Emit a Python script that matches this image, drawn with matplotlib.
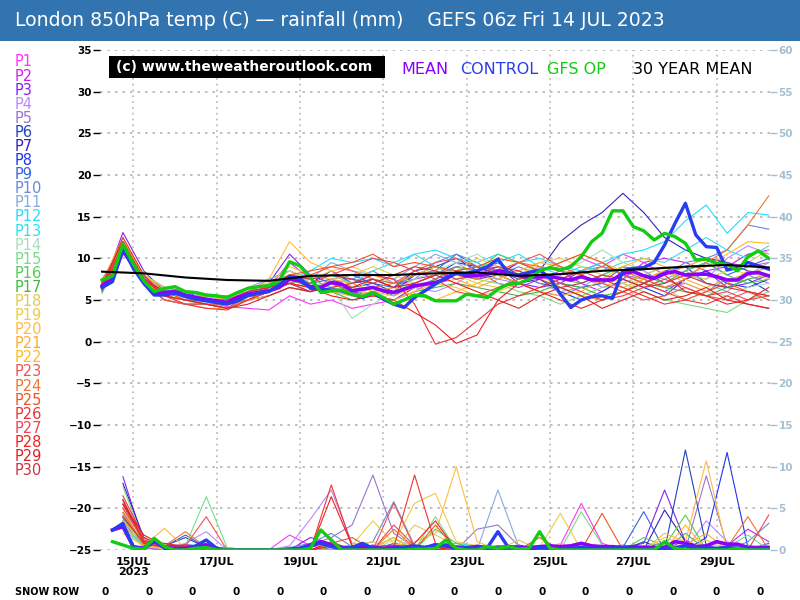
import numpy as np
import matplotlib
matplotlib.use("Agg")
import matplotlib.pyplot as plt
from matplotlib.patches import Rectangle

plt.rcParams['font.family'] = ['DejaVu Sans']

# ---------------- DATA ----------------
# time in days since 14 JUL 00z; first value = 14 JUL 06z
T_START = 0.25
title = "London 850hPa temp (C) \u2014 rainfall (mm)    GEFS 06z Fri 14 JUL 2023"
date_ticks = [1, 3, 5, 7, 9, 11, 13, 15]
date_labels = ["15JUL\n2023", "17JUL", "19JUL", "21JUL", "23JUL", "25JUL", "27JUL", "29JUL"]
temp_ticks = [-25, -20, -15, -10, -5, 0, 5, 10, 15, 20, 25, 30, 35]
rain_ticks = [0, 5, 10, 15, 20, 25, 30, 35, 40, 45, 50, 55, 60]
snow_row = [0, 0, 0, 0, 0, 0, 0, 0, 0, 0, 0, 0, 0, 0, 0, 0]

# 6-hourly main series
mean_t = [6.7, 7.5, 10.9, 9.1, 7.3, 5.7, 5.9, 6.0, 5.6, 5.3, 5.1, 4.9, 4.7, 5.3, 5.7, 5.9,
          6.1, 6.5, 7.5, 7.3, 6.6, 6.5, 7.1, 6.9, 6.1, 6.3, 6.5, 6.1, 5.9, 6.3, 6.7, 6.9,
          7.1, 7.5, 8.3, 7.9, 7.9, 8.1, 8.5, 8.3, 7.9, 7.7, 7.8, 7.8, 7.6, 7.4, 7.8, 7.4,
          7.4, 7.4, 8.2, 8.4, 7.9, 7.6, 8.2, 8.4, 8.0, 8.1, 8.1, 7.8, 7.4, 7.4, 8.2, 8.3, 7.9]
control_t = [6.5, 7.2, 11.2, 8.8, 7.0, 5.6, 5.6, 5.8, 5.4, 5.1, 4.9, 4.7, 4.5, 4.9, 5.5, 5.8,
             6.0, 6.8, 7.8, 7.6, 6.4, 6.3, 6.2, 6.1, 5.7, 5.3, 5.9, 5.1, 4.5, 4.1, 5.3, 6.1,
             6.9, 7.7, 8.2, 8.2, 8.5, 9.0, 9.9, 8.2, 8.0, 8.3, 8.6, 7.6, 5.7, 4.1, 5.0, 5.4,
             5.5, 5.2, 8.5, 8.8, 8.9, 9.5, 11.6, 14.2, 16.6, 12.8, 11.4, 11.3, 8.6, 8.9, 9.5, 9.1, 8.7]
gfsop_t = [7.4, 7.9, 11.7, 9.3, 7.3, 6.0, 6.4, 6.6, 6.0, 5.9, 5.6, 5.5, 5.3, 5.9, 6.4, 6.6,
           6.7, 7.3, 9.6, 9.1, 7.7, 5.9, 6.1, 6.2, 5.7, 5.4, 5.9, 5.3, 4.5, 5.0, 5.6, 5.5,
           4.9, 4.9, 4.9, 5.7, 5.5, 5.3, 6.3, 6.9, 7.0, 7.5, 8.5, 8.9, 8.6, 9.0, 10.2, 12.0,
           13.0, 15.7, 15.7, 13.8, 13.3, 12.2, 13.0, 12.6, 11.8, 9.8, 9.9, 9.4, 9.3, 8.5, 10.2, 10.9, 10.0]
# daily 30-year mean
clim_t = [8.4, 8.2, 7.7, 7.4, 7.3, 7.9, 8.0, 8.0, 8.2, 8.3, 7.9, 8.1, 8.5, 8.7, 9.0, 9.2, 8.9]

mean_r = [0, 2.4, 2.8, 0.4, 0.2, 1.0, 0.3, 0.2, 0.2, 0.4, 0.6, 0.1, 0, 0, 0, 0,
          0, 0, 0.1, 0.2, 0.6, 1.0, 0.6, 0.3, 0.3, 0.4, 0.3, 0.2, 0.3, 0.3, 0.3, 0.3,
          0.4, 0.6, 0.3, 0.3, 0.4, 0.3, 0.3, 0.4, 0.3, 0.3, 0.4, 0.5, 0.4, 0.5, 0.8, 0.5,
          0.4, 0.4, 0.3, 0.4, 0.3, 0.3, 0.3, 1.0, 0.8, 0.4, 0.5, 1.0, 0.7, 0.7, 0.3, 0.3, 0.3]
control_r = [0, 2.4, 3.2, 0.3, 0.2, 1.2, 0.2, 0, 0, 0.5, 1.2, 0.2, 0, 0, 0, 0,
             0, 0, 0, 0.2, 0.5, 0.8, 0.4, 0.2, 0.3, 0.8, 0.2, 0.1, 0.2, 0.3, 0.5, 0.3,
             0.6, 0.5, 0.2, 0.3, 0.2, 0.3, 2.2, 0.3, 0.2, 0.1, 0.3, 0.2, 0.1, 0.2, 0.3, 0.2,
             0.2, 0.2, 0.3, 0.2, 0.1, 0.2, 0.2, 0.3, 0.5, 0.2, 0.3, 0.2, 0.3, 0.2, 0.2, 0.1, 0.2]
gfsop_r = [0, 1.0, 0.6, 0.2, 0.1, 1.4, 0.4, 0, 0, 0.2, 0.3, 0, 0, 0, 0, 0,
           0, 0, 0, 0, 0.2, 2.4, 1.2, 0, 0, 0, 0, 0, 0, 0, 0.1, 0.1,
           0.2, 1.2, 0.2, 0, 0, 0.4, 0.2, 0.4, 0.1, 0.2, 2.2, 0.2, 0, 0, 0, 0,
           0, 0, 0, 0, 0, 0, 1.0, 0.2, 0, 0, 0, 0, 0, 0.2, 0, 0, 0]

# 12-hourly perturbation members: temperature (C)
t_p1 = [6.5, 11.5, 7.8, 5.5, 5.0, 4.8, 4.2, 4.0, 3.8, 5.5, 4.5, 5.0, 4.0, 4.5, 5.0, 6.0, 7.5, 8.5, 8.0, 9.5, 8.0, 9.0, 8.5, 10.0, 9.0, 10.5, 9.5, 8.0, 9.0, 10.0, 9.5, 9.0, 9.5]
t_p2 = [7.0, 12.0, 8.0, 6.0, 5.5, 5.0, 4.5, 5.5, 6.5, 9.5, 7.5, 6.5, 5.5, 6.0, 6.5, 7.5, 8.0, 9.0, 8.5, 7.0, 6.5, 7.5, 8.5, 7.0, 6.0, 7.5, 9.5, 10.0, 9.5, 8.5, 9.0, 10.5, 11.0]
t_p3 = [6.2, 13.1, 8.5, 6.0, 5.5, 5.5, 5.0, 6.0, 7.0, 10.5, 8.0, 7.0, 6.0, 5.5, 5.0, 6.5, 7.5, 9.0, 8.5, 9.0, 7.0, 6.5, 7.0, 8.5, 9.5, 8.0, 7.0, 6.0, 7.5, 8.5, 6.5, 7.0, 8.0]
t_p4 = [6.8, 12.0, 7.5, 6.5, 6.0, 5.5, 5.0, 6.5, 7.5, 8.5, 7.0, 6.5, 7.0, 8.0, 7.5, 6.5, 6.0, 7.0, 8.5, 7.5, 7.0, 8.5, 9.0, 8.0, 6.5, 7.0, 8.0, 9.0, 8.0, 7.5, 10.0, 11.5, 10.5]
t_p5 = [7.2, 11.0, 7.0, 5.5, 5.0, 5.5, 5.5, 6.0, 7.0, 8.0, 7.5, 8.0, 7.5, 6.5, 6.0, 7.0, 8.0, 8.5, 9.0, 8.0, 7.0, 6.0, 5.5, 6.5, 7.0, 8.0, 7.5, 6.5, 7.0, 6.0, 7.5, 8.0, 7.0]
t_p6 = [6.5, 11.5, 7.0, 5.0, 4.5, 4.5, 4.0, 5.0, 5.5, 6.5, 6.0, 7.5, 6.5, 7.0, 6.0, 8.0, 9.0, 10.0, 8.5, 9.5, 8.0, 7.0, 6.5, 5.5, 5.0, 6.0, 7.0, 8.5, 9.0, 7.0, 6.5, 7.5, 6.0]
t_p7 = [7.0, 11.0, 7.5, 6.0, 5.5, 5.0, 4.5, 5.5, 6.5, 7.5, 7.0, 8.5, 7.0, 7.5, 6.5, 8.5, 9.0, 8.0, 7.5, 8.0, 9.5, 8.5, 12.0, 14.0, 15.5, 17.8, 15.5, 12.5, 11.0, 10.0, 9.5, 8.5, 8.0]
t_p8 = [6.0, 11.5, 8.0, 5.5, 5.0, 4.5, 4.0, 5.0, 6.0, 7.0, 6.0, 7.0, 6.0, 6.5, 5.5, 7.0, 8.0, 9.5, 9.0, 8.0, 7.0, 7.5, 6.0, 5.0, 6.0, 7.5, 6.5, 5.5, 7.5, 8.5, 7.0, 6.5, 7.5]
t_p9 = [6.8, 12.0, 7.2, 6.2, 6.0, 5.0, 4.5, 6.0, 6.5, 8.0, 7.0, 7.5, 8.0, 7.0, 6.5, 8.0, 8.5, 10.5, 9.0, 8.5, 7.5, 8.0, 7.0, 6.5, 7.0, 9.0, 8.5, 7.0, 8.5, 9.5, 8.0, 9.0, 10.0]
t_p10 = [7.5, 11.5, 7.5, 6.0, 5.5, 5.5, 5.0, 5.5, 6.0, 7.0, 6.5, 7.0, 7.5, 8.5, 7.0, 7.5, 9.5, 10.5, 9.5, 8.0, 9.0, 8.0, 7.5, 8.5, 9.0, 8.0, 7.0, 8.0, 9.5, 10.0, 11.0, 14.0, 13.5]
t_p11 = [7.0, 11.0, 8.0, 6.5, 5.5, 5.0, 5.0, 6.0, 7.5, 8.5, 7.5, 9.5, 8.5, 8.0, 7.5, 9.0, 10.5, 9.5, 8.0, 7.5, 8.5, 7.0, 6.0, 6.5, 8.0, 9.0, 8.0, 7.5, 8.5, 7.0, 6.0, 8.0, 9.5]
t_p12 = [6.0, 11.5, 7.0, 5.5, 5.0, 4.8, 4.0, 5.5, 6.5, 7.5, 8.5, 10.0, 9.5, 10.0, 9.0, 10.5, 11.0, 10.0, 9.5, 10.5, 9.5, 10.0, 9.0, 8.5, 9.5, 10.5, 11.0, 12.0, 14.5, 16.4, 13.0, 15.5, 15.2]
t_p13 = [5.8, 11.0, 7.5, 6.0, 5.5, 4.5, 4.0, 5.0, 6.0, 7.0, 7.5, 8.0, 7.0, 8.5, 9.5, 10.5, 9.0, 8.5, 9.0, 9.5, 10.5, 9.0, 8.0, 9.0, 8.5, 9.5, 10.0, 9.5, 11.0, 12.5, 11.0, 10.0, 11.5]
t_p14 = [7.0, 12.0, 7.5, 5.5, 4.5, 5.0, 5.0, 6.0, 6.5, 8.0, 7.0, 6.5, 2.8, 4.5, 6.0, 7.5, 8.5, 9.5, 10.5, 9.0, 8.0, 9.0, 8.5, 9.5, 11.0, 9.5, 8.5, 6.5, 5.0, 6.0, 5.5, 6.5, 7.0]
t_p15 = [6.5, 11.5, 7.0, 5.0, 4.5, 4.5, 4.5, 5.0, 6.0, 7.0, 7.5, 6.5, 6.0, 7.5, 7.0, 6.5, 7.0, 8.0, 7.5, 7.0, 6.0, 5.5, 4.5, 5.5, 6.5, 7.0, 6.0, 5.0, 4.5, 4.0, 3.5, 5.0, 6.0]
t_p16 = [7.0, 11.0, 7.5, 6.0, 5.5, 5.0, 4.5, 6.0, 7.0, 8.0, 7.0, 6.0, 5.5, 6.5, 6.0, 6.5, 7.5, 9.0, 8.5, 10.5, 9.5, 8.5, 7.5, 7.0, 8.0, 9.0, 8.0, 7.0, 8.5, 9.5, 8.0, 7.0, 7.5]
t_p17 = [6.8, 12.0, 8.0, 6.5, 6.0, 5.5, 5.0, 5.5, 6.5, 7.5, 6.5, 6.0, 5.0, 5.5, 5.0, 6.0, 6.5, 7.0, 6.5, 6.0, 5.5, 6.0, 7.0, 6.5, 5.5, 6.0, 7.0, 6.5, 6.0, 5.5, 6.5, 7.5, 8.0]
t_p18 = [7.0, 11.5, 7.5, 6.0, 5.0, 5.5, 5.0, 6.5, 7.0, 9.0, 8.0, 7.5, 8.0, 9.0, 8.0, 7.0, 8.0, 8.5, 10.0, 9.0, 8.0, 9.5, 10.0, 9.0, 8.0, 7.0, 8.0, 9.0, 8.0, 7.5, 8.5, 9.5, 11.0]
t_p19 = [6.5, 12.0, 8.0, 6.5, 5.5, 5.0, 4.5, 6.0, 6.5, 8.5, 7.5, 8.5, 9.0, 8.0, 7.0, 8.0, 9.0, 8.0, 7.0, 6.5, 7.5, 8.5, 9.5, 10.5, 9.5, 8.5, 7.5, 8.0, 9.0, 10.0, 9.0, 8.0, 9.0]
t_p20 = [6.2, 11.0, 7.5, 5.5, 5.0, 5.0, 4.5, 5.5, 7.5, 12.0, 9.5, 8.5, 6.5, 5.5, 5.0, 6.0, 7.0, 6.5, 5.5, 6.0, 7.0, 8.0, 6.5, 5.5, 5.0, 6.0, 7.5, 8.5, 7.0, 6.0, 7.0, 8.5, 7.5]
t_p21 = [6.8, 11.5, 7.0, 5.0, 4.5, 4.0, 4.0, 5.0, 5.5, 6.5, 6.0, 7.5, 7.0, 6.0, 5.5, 6.5, 7.0, 7.5, 6.5, 7.5, 8.5, 9.5, 9.0, 8.0, 7.0, 6.5, 7.5, 8.5, 7.5, 6.5, 7.5, 8.0, 9.0]
t_p22 = [7.2, 12.5, 8.0, 6.0, 5.5, 5.5, 5.0, 6.0, 6.0, 7.0, 6.5, 6.0, 5.5, 6.0, 6.5, 5.5, 5.0, 6.0, 7.0, 8.0, 7.0, 6.0, 5.5, 6.0, 7.5, 9.0, 10.0, 9.0, 8.0, 9.0, 10.5, 12.0, 11.8]
t_p23 = [6.5, 11.0, 7.0, 5.5, 5.0, 4.5, 4.5, 5.5, 6.0, 7.0, 8.0, 9.0, 8.5, 7.5, 7.0, 8.5, 9.5, 10.0, 9.0, 8.5, 9.5, 10.5, 9.0, 8.0, 7.0, 6.0, 5.0, 5.5, 6.5, 5.5, 5.0, 6.0, 5.5]
t_p24 = [6.0, 11.5, 7.5, 5.5, 5.0, 4.5, 4.0, 5.0, 6.0, 7.0, 6.5, 7.0, 6.0, 6.5, 7.0, 8.0, 8.5, 8.0, 7.5, 8.5, 9.5, 9.0, 8.5, 8.0, 9.0, 8.5, 7.5, 6.5, 7.5, 9.5, 11.0, 14.0, 17.5]
t_p25 = [7.0, 12.0, 7.5, 6.0, 5.0, 5.0, 4.5, 5.0, 6.5, 8.0, 8.5, 9.0, 9.5, 10.5, 9.0, 9.5, 9.0, 8.5, 9.0, 10.0, 9.5, 8.5, 9.5, 10.5, 9.5, 8.0, 7.0, 6.0, 5.0, 6.0, 7.0, 6.0, 5.0]
t_p26 = [6.5, 12.5, 8.0, 5.5, 4.5, 4.0, 3.8, 5.0, 6.0, 7.0, 6.0, 6.5, 7.0, 8.0, 7.5, 4.5, -0.3, 0.5, 2.5, 4.5, 5.5, 6.5, 7.5, 8.5, 7.5, 6.5, 5.5, 4.5, 5.0, 4.5, 5.5, 4.5, 4.0]
t_p27 = [6.8, 11.5, 7.0, 5.0, 4.5, 4.5, 4.0, 5.5, 6.0, 7.5, 7.0, 8.0, 9.0, 10.0, 9.5, 8.5, 7.5, 6.0, 5.5, 6.5, 7.5, 8.0, 7.0, 6.0, 5.0, 5.5, 6.5, 7.5, 6.5, 5.5, 6.0, 5.0, 5.5]
t_p28 = [7.0, 12.0, 7.5, 6.0, 5.5, 5.0, 4.5, 6.0, 6.5, 7.0, 6.5, 5.5, 5.0, 5.5, 5.0, 3.5, 2.0, -0.2, 0.8, 5.0, 7.0, 6.0, 5.0, 4.0, 5.0, 6.0, 7.0, 8.0, 6.0, 5.5, 4.5, 5.0, 6.5]
t_p29 = [6.2, 11.0, 7.5, 5.5, 5.0, 4.5, 4.0, 4.5, 5.5, 6.5, 6.0, 7.0, 6.5, 7.5, 6.5, 7.0, 8.0, 7.0, 6.0, 5.0, 4.0, 5.5, 6.5, 5.5, 4.0, 5.0, 6.0, 5.0, 5.5, 6.5, 5.0, 4.5, 4.0]
t_p30 = [6.5, 11.5, 7.5, 6.0, 5.5, 5.0, 5.0, 6.0, 6.5, 8.0, 7.5, 8.0, 7.5, 7.0, 8.0, 9.0, 8.5, 7.5, 8.0, 9.0, 8.5, 7.5, 6.5, 7.0, 8.0, 7.5, 6.5, 7.0, 8.0, 7.0, 6.5, 6.0, 5.5]

# 12-hourly perturbation members: rainfall (mm)
r_p1 = [0, 3.0, 0.3, 0, 0, 0, 0, 0, 0, 1.8, 0.5, 0, 0, 0, 0.4, 0, 0, 0.3, 0, 0, 0.5, 0, 0.6, 5.6, 0.8, 0, 0.3, 0, 0.5, 0, 0, 0.4, 0.3]
r_p2 = [0, 4.0, 0.5, 0.2, 0, 0.4, 0, 0, 0, 0, 0, 0.3, 0, 0, 0, 0.5, 0, 0, 0.3, 0, 0, 0, 0, 0.4, 0, 0.6, 0, 0, 1.2, 0, 0.5, 2.5, 1.0]
r_p3 = [0, 8.8, 1.0, 0.3, 0.4, 0, 0, 0, 0, 0, 1.5, 0.8, 0, 0.6, 0, 0, 0.5, 0, 0, 0, 0, 0.5, 0, 0, 0, 0.3, 0.8, 7.2, 1.0, 0, 0.3, 0, 0]
r_p4 = [0, 5.0, 0.5, 0, 0.8, 2.2, 0, 0, 0, 0.5, 3.7, 7.2, 0.8, 0.4, 0, 0, 0.3, 0, 0, 0, 0, 0, 0.4, 0, 0.3, 0, 0, 0.5, 0, 3.5, 1.0, 0, 0.3]
r_p5 = [0, 3.5, 0.2, 0, 0, 0.3, 0, 0, 0, 0, 0.6, 1.5, 3.0, 9.0, 2.0, 0.3, 0, 0, 2.5, 3.0, 0.5, 0, 0, 0, 0, 0, 0.4, 0, 0, 8.9, 0.5, 0, 0]
r_p6 = [0, 6.0, 0.8, 0.5, 1.5, 0.3, 0, 0, 0, 0, 0, 0, 0, 0, 0.5, 0, 0, 0.4, 0, 0, 0, 0.3, 0, 0, 0, 0, 1.0, 0, 12.0, 0.5, 0, 0.3, 0]
r_p7 = [0, 8.0, 1.5, 0.3, 0.5, 0, 0, 0, 0, 0, 0, 0, 0, 0.5, 0, 0.3, 0, 0, 0, 0, 0.6, 0, 0, 0, 0.4, 0, 0, 4.8, 1.0, 0, 0, 0.5, 0]
r_p8 = [0, 5.5, 1.0, 0.3, 0.6, 0.5, 0, 0, 0, 0, 0, 0.4, 0, 0, 0.3, 0, 0.8, 0, 0, 0, 0.5, 0, 0, 0.3, 0, 0.4, 0, 0.6, 0, 1.5, 11.7, 0.3, 0]
r_p9 = [0, 4.5, 0.8, 0.4, 1.8, 0.3, 0, 0, 0, 0, 0, 0.5, 0.3, 0, 0.8, 0.4, 0, 0, 0.6, 0, 0, 0, 0, 0, 0, 0.3, 4.6, 0, 0.5, 0, 0, 0, 0.8]
r_p10 = [0, 3.8, 0.6, 0.5, 0.6, 0, 0, 0, 0, 0.3, 0.8, 2.0, 0.4, 1.0, 5.8, 0.5, 0, 0, 0, 0.4, 0, 0, 0, 0, 0, 0, 0.5, 0.8, 0, 0, 0, 1.0, 3.2]
r_p11 = [0, 4.2, 0.8, 0.3, 0.4, 0.3, 0, 0, 0, 0, 0, 0, 0, 0.3, 0.4, 0, 0, 0.5, 0, 7.2, 0.4, 0, 0, 0, 0, 0, 0, 0, 0.6, 0, 0.3, 0, 0]
r_p12 = [0, 2.5, 0.5, 0.2, 0, 0, 0, 0, 0, 0, 0, 0.4, 0, 0, 0.3, 0, 0.6, 0.8, 0.5, 0, 0.3, 0, 0.4, 0, 0, 0, 0, 0, 0, 0, 0, 0, 0]
r_p13 = [0, 3.0, 0.6, 0.3, 0.3, 0, 0, 0, 0, 0, 0, 0, 0.3, 0, 0.5, 0, 0.4, 0.5, 0, 0, 0, 0.3, 0, 0, 0, 0, 0, 0, 0.3, 0, 0, 0, 0]
r_p14 = [0, 2.5, 1.2, 0, 0, 0.4, 0, 0, 0, 0, 0, 0, 0, 0, 1.2, 0.5, 0, 0, 0, 0, 0, 0, 0, 0, 0, 0.4, 0, 0, 0, 0.5, 0.5, 0, 0]
r_p15 = [0, 7.6, 1.0, 0.5, 0.5, 6.4, 0.3, 0, 0, 0, 0, 0.5, 0.4, 0.3, 1.5, 0, 4.0, 0, 0, 0.5, 0, 0, 0, 4.6, 0.6, 0, 0, 0, 0, 0, 0.3, 1.8, 0]
r_p16 = [0, 4.0, 0.6, 0.4, 0.3, 0.5, 0, 0, 0, 0, 0, 0, 0, 0, 0.6, 0, 2.5, 0.8, 0, 0, 0, 0.4, 0, 0, 0, 0, 1.5, 0.5, 4.2, 0, 0, 0.6, 0]
r_p17 = [0, 3.5, 0.8, 0.2, 0.4, 0.3, 0, 0, 0, 0, 0, 0.3, 0, 0.5, 0, 0, 0, 0.4, 0, 0, 0, 0, 0.3, 0, 0, 0, 0, 0, 2.0, 0, 0.4, 0, 0]
r_p18 = [0, 2.0, 0.5, 0.6, 0, 0.4, 0, 0, 0, 0, 0, 0, 0.5, 1.0, 0, 3.0, 1.8, 0.5, 0, 0, 1.2, 0, 0.8, 0, 0, 0.5, 0, 0.6, 0, 1.2, 0, 0.5, 0]
r_p19 = [0, 3.5, 0.8, 0, 0.3, 0.5, 0, 0, 0, 0, 0, 0, 0.6, 3.5, 0.8, 5.6, 6.8, 1.0, 0.5, 0, 0.4, 0.3, 4.4, 0, 0.5, 0, 0, 1.5, 0.6, 0, 0.3, 0, 0]
r_p20 = [0, 5.0, 0.5, 2.6, 0.2, 0.3, 0, 0, 0, 0, 0, 0.4, 0, 0, 0.5, 1.0, 2.0, 10.0, 1.0, 0, 0, 0, 0, 0.3, 0, 0, 0, 2.0, 1.0, 10.7, 0, 0.5, 0]
r_p21 = [0, 4.5, 0.5, 0.4, 0.5, 0, 0.3, 0, 0, 0, 0, 0, 0, 0.3, 0.3, 0, 0, 0.5, 0, 0, 0.3, 0, 0, 0, 0, 0, 0.4, 0, 0.6, 2.0, 0, 0, 0.6]
r_p22 = [0, 3.0, 0.3, 0.3, 0.2, 0, 0, 0, 0, 0, 0, 0, 0, 0.2, 1.5, 0, 0, 0, 0.6, 0, 0, 0, 0, 0.6, 0, 0, 0, 0, 3.0, 0, 0, 0, 0]
r_p23 = [0, 6.0, 1.2, 0.3, 0.5, 4.0, 0, 0, 0, 0, 0, 0.5, 0.3, 0, 5.6, 0.3, 0, 0, 0, 0, 0.5, 0, 0.3, 0, 0, 0, 0, 0, 0.5, 0, 0, 0, 0]
r_p24 = [0, 4.5, 0.6, 0.5, 2.2, 0.3, 0, 0, 0, 0, 0, 0, 0.3, 0, 2.5, 0.3, 0.5, 0, 0, 0.5, 0, 0.4, 0, 0, 0, 0, 0, 0, 0, 0, 0.3, 4.0, 0]
r_p25 = [0, 5.5, 0.9, 0.5, 0.3, 0.4, 0, 0, 0, 0, 0, 0.8, 1.5, 0, 0, 0, 3.0, 0, 0.5, 0, 0, 1.5, 0, 0, 4.4, 0, 0, 0, 0, 0, 0.5, 0, 0]
r_p26 = [0, 6.5, 1.5, 0.3, 0.4, 0, 0, 0, 0, 0, 0, 7.8, 0.5, 0, 0.3, 9.0, 0.8, 0, 0, 0, 0, 0, 0, 0, 0, 0, 0, 0, 0, 0, 0, 0, 0]
r_p27 = [0, 5.0, 1.2, 0.5, 0.3, 0.8, 0, 0, 0, 0, 0, 0.5, 0, 0, 3.0, 0.5, 0, 0.3, 0, 0, 0, 0, 0, 0, 0, 0, 0, 0, 0, 0.5, 0, 0, 4.2]
r_p28 = [0, 6.0, 1.0, 0.8, 0.4, 0.5, 0, 0, 0, 0, 0, 6.4, 0.5, 0.3, 0, 0.8, 3.5, 0, 0, 0, 0, 0, 0, 0, 0, 0, 0, 0, 0, 0, 0, 0, 0]
r_p29 = [0, 5.5, 1.8, 0.5, 0.6, 0.4, 0, 0, 0, 0, 0, 1.0, 0, 0, 0.5, 0, 0, 0.5, 0, 0, 0, 0, 0, 0, 0, 0, 0, 0, 0, 0, 0, 0, 0]
r_p30 = [0, 4.0, 0.8, 0.3, 0.3, 0.4, 0, 0, 0, 0, 0, 0.5, 0, 0.4, 0.6, 0.3, 0, 0, 0, 0, 0, 0.3, 0, 0, 0, 0, 0, 0, 0, 0, 0, 0, 0]

member_names = ["P%d" % n for n in range(1, 31)]
member_colors = ['#ff33ff', '#cc22ee', '#8822ee', '#bb88ff', '#9977cc', '#2244bb', '#3322bb', '#2233ee',
                 '#3366dd', '#6688dd', '#88aadd', '#22ddff', '#33ddee', '#aaddbb', '#77dd88', '#55cc55',
                 '#44bb44', '#ddcc55', '#eecc44', '#ffbb44', '#ffaa33', '#ffbb22', '#ee5555', '#ee7733',
                 '#ee5522', '#ee3333', '#ee4455', '#ee2222', '#dd2222', '#cc3344']

member_temps = [t_p1, t_p2, t_p3, t_p4, t_p5, t_p6, t_p7, t_p8, t_p9, t_p10, t_p11, t_p12, t_p13, t_p14, t_p15,
                t_p16, t_p17, t_p18, t_p19, t_p20, t_p21, t_p22, t_p23, t_p24, t_p25, t_p26, t_p27, t_p28, t_p29, t_p30]
member_rains = [r_p1, r_p2, r_p3, r_p4, r_p5, r_p6, r_p7, r_p8, r_p9, r_p10, r_p11, r_p12, r_p13, r_p14, r_p15,
                r_p16, r_p17, r_p18, r_p19, r_p20, r_p21, r_p22, r_p23, r_p24, r_p25, r_p26, r_p27, r_p28, r_p29, r_p30]

MEAN_C = '#8a00ff'
CTRL_C = '#2a3cf0'
GFS_C = '#11cc11'
CLIM_C = '#000000'
RAIN_AX_C = '#a3bfd0'
GRID_C = '#b4b4b4'
BAR_C = '#3274b0'

# ---------------- FIGURE ----------------
W, H = 800, 600
fig = plt.figure(figsize=(8, 6), dpi=100)
fig.patch.set_facecolor('white')

def fx(px):
    return px / W

def fy(py):
    return 1 - py / H

# title bar
fig.patches.append(Rectangle((0, fy(41)), 1, 41 / H, transform=fig.transFigure,
                             facecolor=BAR_C, edgecolor='none', zorder=0))
fig.text(fx(15), fy(21), title, color='white', fontsize=13.6, va='center', ha='left')

ax = fig.add_axes([fx(100), fy(550), 670 / W, 500 / H])
ax2 = ax.twinx()

def times(vals, step):
    return T_START + step * np.arange(len(vals))

# gridlines
ax.set_axisbelow(True)
for yv in temp_ticks:
    ax.axhline(yv, color=GRID_C, lw=1.2, ls=(0, (1.5, 3.0)), zorder=0)
for xv in date_ticks:
    ax.axvline(xv, color=GRID_C, lw=1.1, ls=(0, (1.2, 2.6)), zorder=0)

# members
for tv, col in zip(member_temps, member_colors):
    ax.plot(times(tv, 0.5), tv, color=col, lw=0.8, zorder=2)
for rv, col in zip(member_rains, member_colors):
    ax2.plot(times(rv, 0.5)[1:], rv[1:], color=col, lw=0.8, zorder=2)

# main lines
ax.plot(times(mean_t, 0.25), mean_t, color=MEAN_C, lw=2.6, zorder=4)
ax.plot(times(control_t, 0.25), control_t, color=CTRL_C, lw=2.4, zorder=5)
ax.plot(times(gfsop_t, 0.25), gfsop_t, color=GFS_C, lw=2.4, zorder=6)
ax.plot(times(clim_t, 1.0), clim_t, color=CLIM_C, lw=1.5, zorder=7)

ax2.plot(times(mean_r, 0.25)[1:], mean_r[1:], color=MEAN_C, lw=2.6, zorder=4)
ax2.plot(times(control_r, 0.25)[1:], control_r[1:], color=CTRL_C, lw=2.4, zorder=5)
ax2.plot(times(gfsop_r, 0.25)[1:], gfsop_r[1:], color=GFS_C, lw=2.4, zorder=6)

ax.set_xlim(0.2, 16.28)
ax.set_ylim(-25, 35)
ax2.set_ylim(0, 60)

for a in (ax, ax2):
    for s in a.spines.values():
        s.set_visible(False)
    a.patch.set_visible(False)

ax.set_yticks(temp_ticks)
ax.set_yticklabels([str(v).replace('-', '\u2212') for v in temp_ticks],
                   fontsize=7.5, fontweight='bold')
ax.tick_params(axis='y', direction='out', length=5, width=1, pad=1, colors='black')
ax2.set_yticks(rain_ticks)
ax2.set_yticklabels([str(v) for v in rain_ticks], fontsize=7.5, fontweight='bold', color=RAIN_AX_C)
ax2.tick_params(axis='y', direction='out', length=5, width=1, pad=1, colors=RAIN_AX_C)

ax.set_xticks(date_ticks)
ax.set_xticklabels(date_labels, fontsize=8, fontweight='bold', linespacing=1.0)
ax.tick_params(axis='x', length=0, pad=5)

# copyright box and legend line
fig.patches.append(Rectangle((fx(109), fy(78)), 276 / W, 22 / H, transform=fig.transFigure,
                             facecolor='black', edgecolor='none', zorder=5))
fig.text(fx(116), fy(67), "(c) www.theweatheroutlook.com", color='white', fontsize=10,
         fontweight='bold', va='center', ha='left', zorder=6)
legend_items = [("MEAN", MEAN_C, 401), ("CONTROL", CTRL_C, 460), ("GFS OP", GFS_C, 547),
                ("30 YEAR MEAN", CLIM_C, 633)]
for txt, col, px in legend_items:
    fig.text(fx(px), fy(69), txt, color=col, fontsize=11.5, va='center', ha='left')

# member name list
for k, (nm, col) in enumerate(zip(member_names, member_colors)):
    fig.text(fx(15), fy(62 + 14.09 * k), nm, color=col, fontsize=10.5, va='center', ha='left')

# snow row
fig.text(fx(15), fy(592), "SNOW ROW", fontsize=7, fontweight='bold', va='center', ha='left')
snow_x = np.linspace(105, 760, len(snow_row))
for px, v in zip(snow_x, snow_row):
    fig.text(fx(px), fy(592), str(v), fontsize=7.5, fontweight='bold', va='center', ha='center')

fig.savefig("out.png", dpi=100)
